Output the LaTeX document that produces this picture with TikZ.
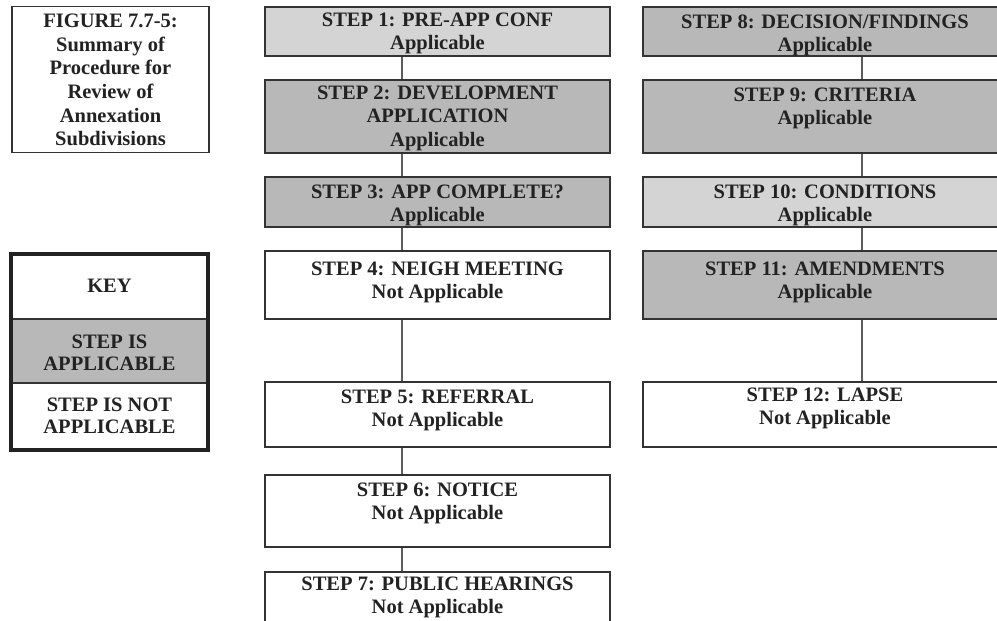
\documentclass[tikz,border=0pt]{standalone}
\usepackage{fontspec}
\setmainfont{Liberation Serif}
\definecolor{lite}{HTML}{D4D4D4}
\definecolor{dark}{HTML}{B8B8B8}
\definecolor{edge}{HTML}{333333}
\definecolor{ink}{HTML}{222222}
\tikzset{
  stepbox/.style={draw=edge, line width=1.5pt, rectangle, inner sep=0pt},
  lab/.style={anchor=north, align=center, inner sep=0pt, text=ink,
    font=\fontsize{20.5}{23.5}\selectfont\bfseries},
  ttl/.style={align=center, inner sep=0pt, text=ink,
    font=\fontsize{20.5}{22.6}\selectfont\bfseries},
  conn/.style={draw=edge!80, line width=1.5pt}
}
\begin{document}
\begin{tikzpicture}[x=1pt,y=-1pt]
\clip (0,0) rectangle (997,621);
\fill[white] (0,0) rectangle (997,621);
% title box
\node[stepbox, minimum width=197pt, minimum height=146pt] (title) at (110.5,79.5) {};
\node[ttl, font=\fontsize{20.5}{23.6}\selectfont\bfseries] (titletxt) at (110.5,80) {FIGURE 7.7-5:\\Summary of\\Procedure for\\Review of\\Annexation\\Subdivisions};
% key box
\node[rectangle, fill=dark, minimum width=199pt, minimum height=64pt, inner sep=0pt] (keyA) at (109.5,351) {};
\draw[draw=edge, line width=1.5pt] (9,319) -- (210,319) (9,383) -- (210,383);
\node[draw=ink, line width=4pt, minimum width=197pt, minimum height=196pt, inner sep=0pt] (key) at (109.5,352) {};
\node[ttl] (keyt) at (109.5,286) {KEY};
\node[ttl] (keya) at (109.5,353) {STEP IS\\APPLICABLE};
\node[ttl] (keyn) at (109.5,416) {STEP IS NOT\\APPLICABLE};
% column 1
\node[stepbox, fill=lite, minimum width=345pt, minimum height=49pt] (s1) at (437.5,31.5) {};
\node[stepbox, fill=dark, minimum width=345pt, minimum height=73pt] (s2) at (437.5,116.5) {};
\node[stepbox, fill=dark, minimum width=345pt, minimum height=50pt] (s3) at (437.5,202) {};
\node[stepbox, fill=white, minimum width=345pt, minimum height=68pt] (s4) at (437.5,285) {};
\node[stepbox, fill=white, minimum width=345pt, minimum height=65pt] (s5) at (437.5,414.5) {};
\node[stepbox, fill=white, minimum width=345pt, minimum height=72pt] (s6) at (437.5,511) {};
\node[stepbox, fill=white, minimum width=345pt, minimum height=68pt] (s7) at (437.5,606) {};
% column 2
\node[stepbox, fill=dark, minimum width=364pt, minimum height=49pt] (s8) at (825,31.5) {};
\node[stepbox, fill=dark, minimum width=364pt, minimum height=73pt] (s9) at (825,116.5) {};
\node[stepbox, fill=lite, minimum width=364pt, minimum height=50pt] (s10) at (825,202) {};
\node[stepbox, fill=dark, minimum width=364pt, minimum height=68pt] (s11) at (825,285) {};
\node[stepbox, fill=white, minimum width=364pt, minimum height=65pt] (s12) at (825,414.5) {};
% texts
\node[lab] (t1) at ([yshift=-6pt]s1.north) {STEP 1: PRE-APP CONF\\Applicable};
\node[lab] (t2) at ([yshift=-6pt]s2.north) {STEP 2: DEVELOPMENT\\APPLICATION\\Applicable};
\node[lab] (t3) at ([yshift=-8pt]s3.north) {STEP 3: APP COMPLETE?\\Applicable};
\node[lab] (t4) at ([yshift=-11pt]s4.north) {STEP 4: NEIGH MEETING\\Not Applicable};
\node[lab] (t5) at ([yshift=-8pt]s5.north) {STEP 5: REFERRAL\\Not Applicable};
\node[lab] (t6) at ([yshift=-8pt]s6.north) {STEP 6: NOTICE\\Not Applicable};
\node[lab] (t7) at ([yshift=-5pt]s7.north) {STEP 7: PUBLIC HEARINGS\\Not Applicable};
\node[lab] (t8) at ([yshift=-8pt]s8.north) {STEP 8: DECISION/FINDINGS\\Applicable};
\node[lab] (t9) at ([yshift=-8pt]s9.north) {STEP 9: CRITERIA\\Applicable};
\node[lab] (t10) at ([yshift=-8pt]s10.north) {STEP 10: CONDITIONS\\Applicable};
\node[lab] (t11) at ([yshift=-11pt]s11.north) {STEP 11: AMENDMENTS\\Applicable};
\node[lab] (t12) at ([yshift=-6pt]s12.north) {STEP 12: LAPSE\\Not Applicable};
% connectors
\coordinate (ca) at (402,0);
\coordinate (cb) at (862,0);
\draw[conn] (s1.south -| ca) -- (s2.north -| ca);
\draw[conn] (s2.south -| ca) -- (s3.north -| ca);
\draw[conn] (s3.south -| ca) -- (s4.north -| ca);
\draw[conn] (s4.south -| ca) -- (s5.north -| ca);
\draw[conn] (s5.south -| ca) -- (s6.north -| ca);
\draw[conn] (s6.south -| ca) -- (s7.north -| ca);
\draw[conn] (s8.south -| cb) -- (s9.north -| cb);
\draw[conn] (s9.south -| cb) -- (s10.north -| cb);
\draw[conn] (s10.south -| cb) -- (s11.north -| cb);
\draw[conn] (s11.south -| cb) -- (s12.north -| cb);
\end{tikzpicture}
\end{document}
